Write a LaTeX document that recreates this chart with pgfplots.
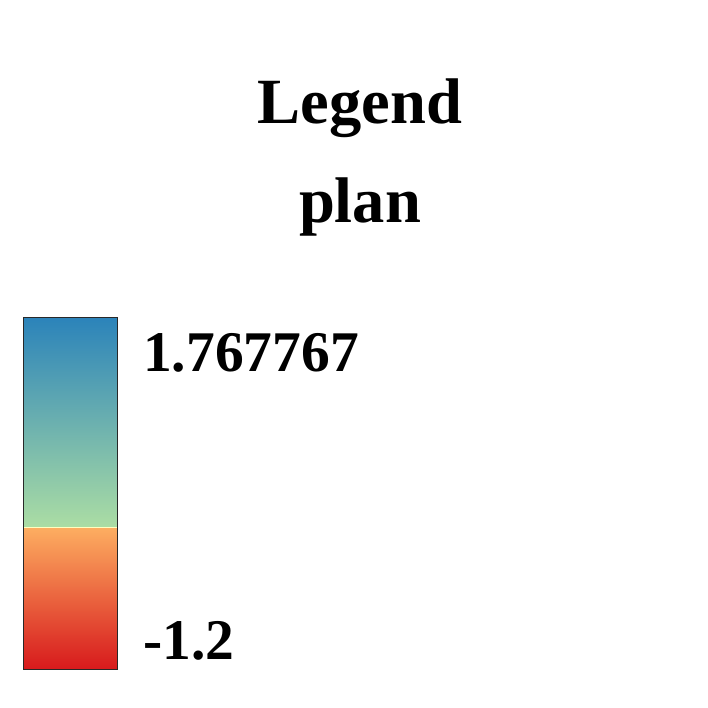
\documentclass[border=0pt]{standalone}
\usepackage{pgfplots}
\pgfplotsset{compat=1.18}
\usepackage{fontspec}
\setmainfont{Liberation Serif}
\begin{document}
\begin{tikzpicture}[x=1pt,y=1pt]
\useasboundingbox (0,0) rectangle (708,708);
\begin{axis}[
  at={(23pt,38pt)}, anchor=south west,
  scale only axis, width=94pt, height=353pt,
  xmin=0, xmax=1, ymin=-1.2, ymax=1.767767,
  view={0}{90},
  xtick=\empty, ytick=\empty,
  axis on top=true,
  axis line style={draw={rgb,255:red,40;green,40;blue,40}, line width=1pt},
  colormap={spec}{rgb255(0)=(215,25,28) rgb255(1)=(253,174,97) rgb255(2)=(171,221,164) rgb255(3)=(43,131,186)},
  point meta min=0, point meta max=3,
]
\addplot3[surf, shader=interp, mesh/rows=4, mesh/cols=2, point meta=explicit] table[meta=m] {
x y z m
0 -1.2 0 0
1 -1.2 0 0
0 0 0 1
1 0 0 1
0 0 0 2
1 0 0 2
0 1.767767 0 3
1 1.767767 0 3
};
\addplot[draw={rgb,255:red,255;green,255;blue,191}, line width=1.5pt] coordinates {(0,0) (1,0)};
\end{axis}
\node[anchor=base, font=\fontsize{64.5}{70}\selectfont\bfseries] at (360,584) {Legend};
\node[anchor=base, font=\fontsize{64.5}{70}\selectfont\bfseries] at (360,485) {plan};
\node[anchor=base west, inner sep=0pt, font=\fontsize{57.5}{60}\selectfont\bfseries] at (143,336) {1.767767};
\node[anchor=base west, inner sep=0pt, font=\fontsize{57.5}{60}\selectfont\bfseries] at (143,48) {-1.2};
\end{tikzpicture}
\end{document}
